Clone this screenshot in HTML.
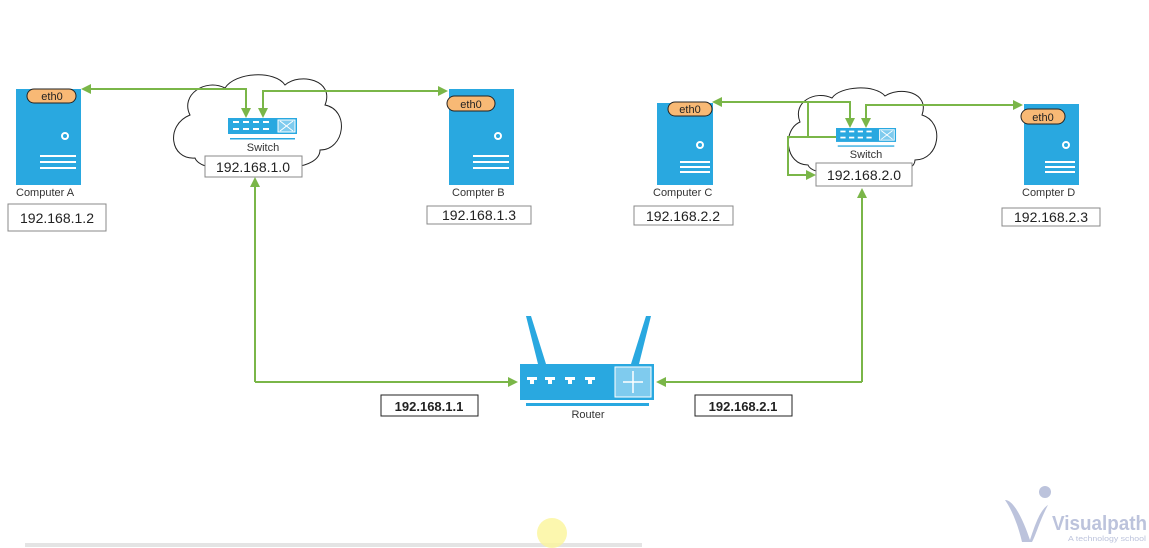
<!DOCTYPE html>
<html><head><meta charset="utf-8"><style>
body{margin:0;background:#fff;width:1149px;height:548px;overflow:hidden}
svg{display:block}
text{font-family:"Liberation Sans",Arial,sans-serif}
</style></head><body>
<svg width="1149" height="548" viewBox="0 0 1149 548">
<defs>
<marker id="ar" markerWidth="10" markerHeight="10" refX="8" refY="5" orient="auto" markerUnits="userSpaceOnUse">
<path d="M0,0 L10,5 L0,10 Z" fill="#7ab648"/></marker>
<g id="sw">
<rect x="0" y="0" width="69" height="16" fill="#29a8e0"/>
<rect x="50" y="2" width="17" height="12" fill="#7fcbee" stroke="#fff" stroke-width="1"/>
<path d="M52,3 L65,13 M65,3 L52,13" stroke="#fff" stroke-width="1"/>
<g fill="#fff"><rect x="5" y="3" width="6" height="2"/><rect x="15" y="3" width="6" height="2"/><rect x="25" y="3" width="6" height="2"/><rect x="35" y="3" width="6" height="2"/>
<rect x="5" y="10" width="6" height="2"/><rect x="15" y="10" width="6" height="2"/><rect x="25" y="10" width="6" height="2"/><rect x="35" y="10" width="6" height="2"/></g>
<rect x="2" y="20" width="65" height="1.5" fill="#29a8e0"/>
</g>
</defs>
<g fill="none" stroke="#222" stroke-width="1">
<path d="M195,158 C170,160 165,125 190,115 C180,95 205,78 225,88 C235,72 275,70 285,85 C300,72 335,80 325,105 C350,110 345,150 320,150 C320,170 270,172 265,160 C245,172 200,172 195,158 Z"/>
<path d="M808,165 C785,165 782,130 800,122 C792,102 815,90 832,98 C840,86 875,84 885,96 C900,86 930,92 922,115 C945,122 940,160 915,160 C915,175 875,176 870,166 C850,176 812,176 808,165 Z"/>
</g>
<g fill="#29a8e0"><rect x="16" y="89" width="65" height="96"/><rect x="449" y="89" width="65" height="96"/><rect x="657" y="103" width="56" height="82"/><rect x="1024" y="104" width="55" height="81"/></g>
<g stroke="#fff" stroke-width="2" fill="none">
<circle cx="65" cy="136" r="3"/><path d="M40,156h36M40,162h36M40,168h36"/>
<circle cx="498" cy="136" r="3"/><path d="M473,156h36M473,162h36M473,168h36"/>
<circle cx="700" cy="145" r="3"/><path d="M680,162h30M680,167h30M680,172h30"/>
<circle cx="1066" cy="145" r="3"/><path d="M1045,162h30M1045,167h30M1045,172h30"/>
</g>
<g fill="#f8b975" stroke="#222" stroke-width="1">
<rect x="27" y="89" width="49" height="14" rx="7"/><rect x="447" y="96" width="48" height="15" rx="7.5"/>
<rect x="668" y="102" width="44" height="14" rx="7"/><rect x="1021" y="109" width="44" height="15" rx="7.5"/>
</g>
<g font-size="11" text-anchor="middle" fill="#222">
<text x="52" y="100">eth0</text><text x="471" y="108">eth0</text><text x="690" y="113">eth0</text><text x="1043" y="121">eth0</text>
</g>
<g font-size="11" fill="#333">
<text x="16" y="196">Computer A</text><text x="452" y="196">Compter B</text><text x="653" y="196">Computer C</text><text x="1022" y="196">Compter D</text>
<text x="263" y="151" text-anchor="middle">Switch</text><text x="866" y="158" text-anchor="middle">Switch</text>
<text x="588" y="418" text-anchor="middle">Router</text>
</g>
<use href="#sw" x="228" y="118"/>
<use href="#sw" x="836" y="128" transform="translate(836,128) scale(0.87) translate(-836,-128)"/>
<g fill="#fff" stroke="#888" stroke-width="1">
<rect x="8" y="204" width="98" height="27"/><rect x="205" y="156" width="97" height="21"/><rect x="427" y="206" width="104" height="18"/>
<rect x="634" y="206" width="99" height="19"/><rect x="816" y="163" width="96" height="23"/><rect x="1002" y="208" width="98" height="18"/>
</g>
<g fill="#fff" stroke="#222" stroke-width="1"><rect x="381" y="395" width="97" height="21"/><rect x="695" y="395" width="97" height="21"/></g>
<g font-size="14" fill="#222" text-anchor="middle">
<text x="57" y="223">192.168.1.2</text><text x="253" y="172">192.168.1.0</text><text x="479" y="220">192.168.1.3</text>
<text x="683" y="221">192.168.2.2</text><text x="864" y="180">192.168.2.0</text><text x="1051" y="222">192.168.2.3</text>
<text x="429" y="411" font-weight="bold" font-size="13">192.168.1.1</text><text x="743" y="411" font-weight="bold" font-size="13">192.168.2.1</text>
</g>
<g fill="#29a8e0"><path d="M526,316 L531,316 L546,364 L538,364 Z"/><path d="M646,316 L651,316 L639,364 L631,364 Z"/>
<rect x="520" y="364" width="134" height="36"/><rect x="526" y="403" width="123" height="3"/></g>
<rect x="615" y="367" width="36" height="30" fill="#7fcbee" stroke="#fff"/>
<g fill="#fff"><rect x="527" y="377" width="10" height="3"/><rect x="530" y="380" width="4" height="4"/><rect x="545" y="377" width="10" height="3"/><rect x="548" y="380" width="4" height="4"/><rect x="565" y="377" width="10" height="3"/><rect x="568" y="380" width="4" height="4"/><rect x="585" y="377" width="10" height="3"/><rect x="588" y="380" width="4" height="4"/></g>
<path d="M633,371v22M623,382h20" stroke="#fff" stroke-width="1.5"/>
<g fill="none" stroke="#7ab648" stroke-width="2">
<path d="M246,116 V89 H83" marker-end="url(#ar)"/><path d="M246,95 V116" marker-end="url(#ar)"/>
<path d="M263,116 V91 H446" marker-end="url(#ar)"/><path d="M263,96 V116" marker-end="url(#ar)"/>
<path d="M255,382 V179" marker-end="url(#ar)"/><path d="M255,382 H516" marker-end="url(#ar)"/>
<path d="M862,382 H658" marker-end="url(#ar)"/><path d="M862,382 V190" marker-end="url(#ar)"/>
<path d="M850,126 V102 H714" marker-end="url(#ar)"/><path d="M850,108 V126" marker-end="url(#ar)"/>
<path d="M866,126 V105 H1021" marker-end="url(#ar)"/><path d="M866,110 V126" marker-end="url(#ar)"/>
<path d="M836,137 H788 V175 H814" marker-end="url(#ar)"/><path d="M808,137 V102 H850"/>
</g>
<rect x="25" y="543" width="617" height="4" fill="#e4e4e4"/>
<circle cx="552" cy="533" r="15" fill="#fbf59a" opacity="0.8"/>
<path d="M1005,500 C1015,500 1025,525 1030,540 C1035,525 1040,510 1048,505 C1040,520 1036,535 1032,542 L1022,542 C1018,525 1012,510 1005,500 Z" fill="#bcc3dc"/>
<circle cx="1045" cy="492" r="6" fill="#bcc3dc"/>
<text x="1052" y="530" font-size="20" font-weight="bold" fill="#bcc3dc" textLength="95" lengthAdjust="spacingAndGlyphs">Visualpath</text>
<text x="1068" y="541" font-size="7" fill="#bcc3dc" textLength="78" lengthAdjust="spacingAndGlyphs">A technology school</text>
</svg>
</body></html>
